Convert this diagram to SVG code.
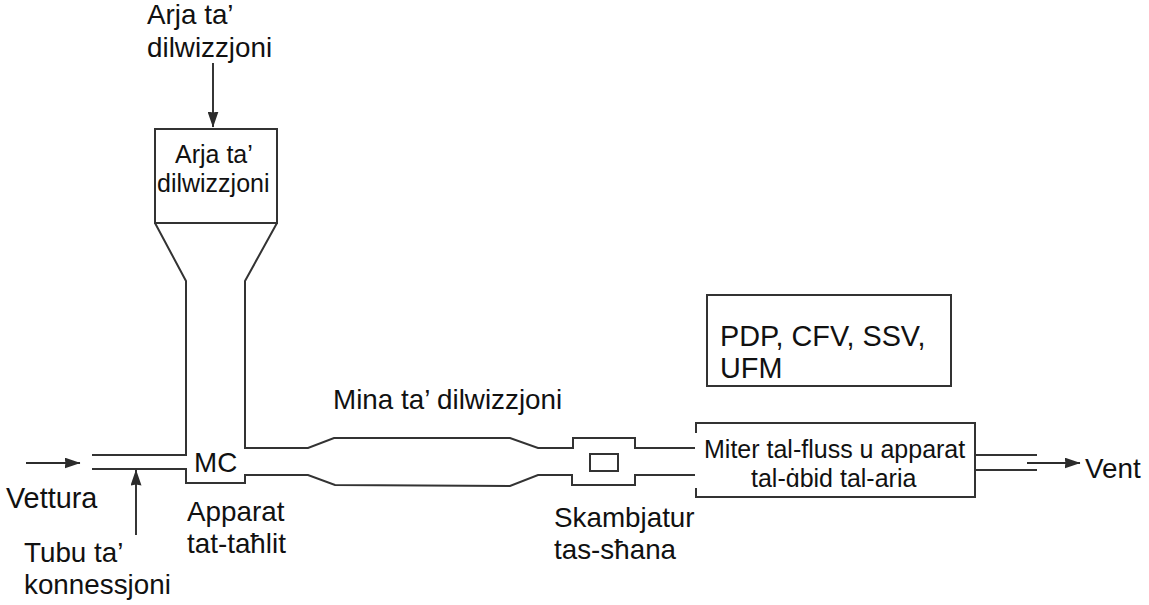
<svg xmlns="http://www.w3.org/2000/svg" width="1149" height="605" viewBox="0 0 1149 605">
  <style>
    .ln { fill: none; stroke: #333; stroke-width: 2; }
    .ar { fill: none; stroke: #2c2c2c; stroke-width: 1.9; }
    text { font-family: "Liberation Sans", Arial, sans-serif; fill: #111; font-size: 27.8px; }
    .sm { font-size: 25px; }
    .lg { font-size: 28.8px; }
  </style>
  <defs>
    <marker id="head" viewBox="0 0 16 11" refX="15.5" refY="5.5" markerWidth="16" markerHeight="11" markerUnits="userSpaceOnUse" orient="auto">
      <path d="M0 0L16 5.5L0 11L1 5.5Z" fill="#2c2c2c"/>
    </marker>
    <clipPath id="meterClip"><rect x="697" y="424" width="277" height="63"/></clipPath>
  </defs>

  <g id="connectors">
    <!-- feed arrows and outlet arrow -->
    <path class="ar" d="M26 463H80" marker-end="url(#head)"/>
    <path class="ar" d="M136 535V470" marker-end="url(#head)"/>
    <path class="ar" d="M213 63V127" marker-end="url(#head)"/>
    <path class="ar" d="M1027 463H1080" marker-end="url(#head)"/>
    <!-- transfer tube into the mixing chamber -->
    <path class="ln" d="M92 455H186V281L155 223"/>
    <path class="ln" d="M92 469H186V483H245V475H308L335 485L510 486L538 475H572V485H635V475H695"/>
    <path class="ln" d="M277 223L245 281V448H308L334 438H510L538 448H573V438H635V448H695"/>
    <!-- outlet pipe -->
    <path class="ln" d="M975 455H1037M975 470H1037"/>
  </g>

  <g id="dilution-air">
    <rect class="ln" x="155" y="129" width="122" height="94"/>
    <text class="sm" x="175" y="163">Arja ta’</text>
    <text class="sm" x="157" y="192">dilwizzjoni</text>
  </g>
  <g id="dilution-air-label">
    <text x="147" y="24">Arja ta’</text>
    <text x="147" y="57">dilwizzjoni</text>
  </g>
  <g id="vehicle"><text class="lg" x="6" y="508">Vettura</text></g>
  <g id="transfer-tube">
    <text x="24" y="562">Tubu ta’</text>
    <text x="24" y="594">konnessjoni</text>
  </g>
  <g id="mixing-chamber">
    <text x="194" y="472">MC</text>
    <text x="187" y="521">Apparat</text>
    <text x="187" y="553">tat-taħlit</text>
  </g>
  <g id="dilution-tunnel"><text x="333" y="409">Mina ta’ dilwizzjoni</text></g>
  <g id="heat-exchanger">
    <rect class="ln" x="590" y="454" width="28" height="17"/>
    <text x="554" y="527">Skambjatur</text>
    <text x="554" y="559">tas-sħana</text>
  </g>
  <g id="flow-meter">
    <path class="ln" d="M696 433V423H975V497H696V488"/>
    <text class="sm" x="704" y="458">Miter tal-fluss u apparat</text>
    <text class="sm" x="751" y="487" clip-path="url(#meterClip)">tal-ġbid tal-arja</text>
  </g>
  <g id="meter-types">
    <rect class="ln" x="707" y="295" width="244" height="91"/>
    <text class="lg" x="720" y="346">PDP, CFV, SSV,</text>
    <text class="lg" x="720" y="378">UFM</text>
  </g>
  <g id="vent"><text x="1085" y="478">Vent</text></g>
</svg>
